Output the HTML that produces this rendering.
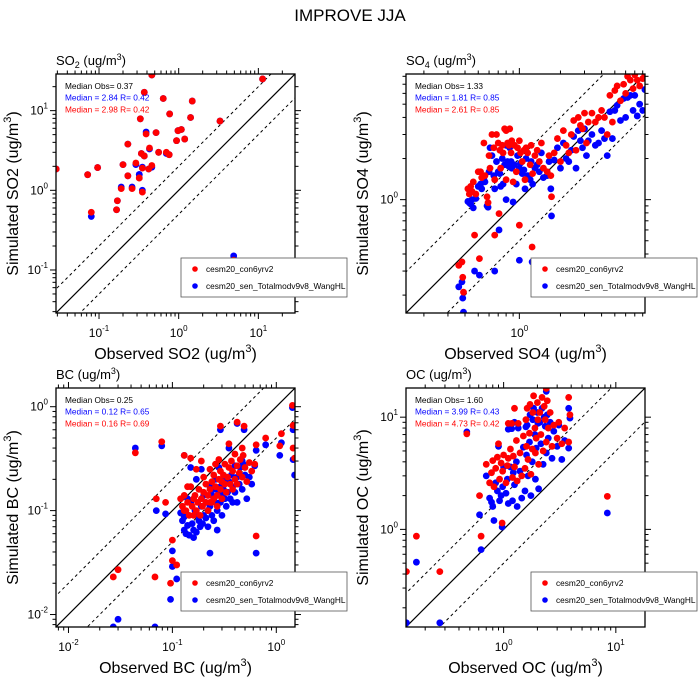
<!DOCTYPE html>
<html><head><meta charset="utf-8">
<style>
html,body{margin:0;padding:0;background:#fff;width:700px;height:700px;overflow:hidden;}
svg{display:block;font-family:"Liberation Sans",sans-serif;}
</style></head>
<body>
<svg id="chart" width="700" height="700" viewBox="0 0 700 700" xmlns="http://www.w3.org/2000/svg">
<text x="350" y="21" text-anchor="middle" font-size="17">IMPROVE JJA</text>
</svg>
<script>
// ---- SO2 data ----
const so2Obs  = [0.46,11.3,0.37,0.64,1.48,0.77,0.33,1.41,3.3,1.08,0.98,0.52,0.39,0.94,1.19,0.23,0.43,0.56,0.70,0.76,0.34,0.37,0.29,0.20,0.46,0.35,0.42,0.32,0.096,0.029,0.072,0.23,0.32,0.26,0.19,0.35,0.17,0.166,0.08,4.9];
const so2Red  = [28,25,17,14.2,13.2,9.1,7.9,8.2,7.4,5.8,5.6,5.3,5.1,4.2,4.4,3.8,3.4,3.0,3.0,2.8,2.9,2.7,2.2,2.1,2.05,1.9,1.85,1.43,1.93,1.85,1.57,1.52,1.43,1.05,1.05,0.95,0.74,0.57,0.53,0.133];
const so2Blue = [28,25,17,14.2,13.2,9.1,7.9,8.2,7.4,5.8,5.6,5.3,5.4,4.2,4.4,3.8,3.3,3.0,2.9,2.8,2.9,2.7,2.1,2.1,1.95,1.95,1.85,1.58,1.93,1.85,1.57,1.52,1.58,1.1,1.1,1.0,0.74,0.57,0.47,0.15];
// ---- SO4 data ----
const so4Obs  = [0.42,0.43,0.44,0.45,0.46,0.48,0.50,0.52,0.53,0.55,0.56,0.58,0.59,0.60,0.61,0.63,0.65,0.66,0.68,0.70,0.72,0.73,0.75,0.76,0.78,0.80,0.80,0.82,0.84,0.85,0.87,0.88,0.90,0.92,0.95,0.97,1.0,1.02,1.05,1.08,1.10,1.12,1.15,1.2,1.22,1.25,1.3,1.35,1.4,1.45,1.5,1.6,1.65,1.7,1.8,1.9,2.0,2.1,2.2,2.3,2.4,2.5,2.6,2.7,2.8,2.9,3.0,3.1,3.2,3.4,3.6,3.8,4.0,4.2,4.4,4.6,4.8,5.0,5.2,5.5,5.8,6.0,6.2,6.5,6.8,7.0,7.3,7.6,8.0,8.3,0.36,0.38,0.385,0.39,0.47,0.51,0.66,0.71,1.0,1.24,1.72];
const so4Red  = [1.2,1.1,1.25,1.15,1.35,1.1,1.6,1.6,1.45,2.6,1.5,1.05,0.95,2.1,1.7,3.0,2.4,1.4,3.0,2.6,2.3,1.7,2.5,2.2,3.3,3.2,1.4,2.6,2.5,3.3,2.2,2.7,1.35,2.5,1.6,2.4,2.7,2.2,1.9,2.3,1.4,2.4,2.2,1.8,2.5,1.55,2.1,2.3,1.9,2.6,1.7,1.6,2.1,1.5,2.2,2.8,1.9,3.2,2.5,2.2,3.0,3.8,2.3,4.0,3.5,3.3,4.3,2.6,3.7,4.3,3.7,4.0,4.5,4.0,3.0,5.8,3.7,6.3,6.8,5.3,7.0,6.0,8.0,7.5,6.5,8.2,7.5,6.8,7.7,8.2,0.33,0.35,0.27,0.21,0.55,0.37,0.55,0.79,0.65,0.45,1.05];
const so4Blue = [0.97,0.95,0.93,1.0,0.87,1.02,1.25,1.3,1.2,1.4,1.35,0.9,0.88,1.6,2.4,2.1,1.5,1.2,1.9,1.6,1.55,1.25,2.0,1.3,1.8,2.5,1.0,1.9,1.75,2.4,1.9,1.7,0.96,1.8,1.3,2.1,1.7,1.85,1.55,1.65,1.2,2.0,1.5,1.4,1.9,1.3,1.7,1.8,1.6,2.2,1.45,1.5,1.9,1.2,1.95,2.4,1.7,2.6,2.0,1.9,2.3,2.9,1.7,3.2,2.7,2.4,3.3,2.1,2.7,3.0,2.5,2.6,3.2,2.8,2.1,4.4,2.8,4.5,4.9,3.8,5.5,4.0,5.6,5.8,4.5,5.8,4.1,5.0,4.5,6.4,0.23,0.25,0.19,0.15,0.30,0.28,0.30,0.60,0.36,0.35,0.76];
// ---- BC data ----
const bcObs  = [0.044,0.079,0.027,0.03,0.068,0.07,0.096,0.1,0.1,0.11,0.13,0.29,0.42,0.49,0.64,0.64,0.79,1.08,1.12,1.43,1.45,1.45,1.5,0.23,0.12,0.125,0.13,0.135,0.14,0.145,0.15,0.155,0.16,0.165,0.17,0.17,0.175,0.18,0.185,0.19,0.19,0.195,0.2,0.2,0.21,0.21,0.22,0.22,0.23,0.23,0.24,0.24,0.25,0.25,0.26,0.26,0.27,0.27,0.28,0.28,0.29,0.29,0.3,0.3,0.31,0.32,0.32,0.33,0.34,0.35,0.36,0.37,0.38,0.38,0.40,0.40,0.42,0.42,0.44,0.45,0.47,0.48,0.50,0.52,0.55,0.58,0.62,0.35,0.47,0.14,0.15,0.13,0.16,0.086];
const bcRed  = [0.36,0.46,0.023,0.027,0.023,0.13,0.020,0.052,0.033,0.03,0.34,0.65,0.71,0.65,0.43,0.057,0.5,0.42,0.55,1.03,0.66,0.4,0.32,0.12,0.13,0.11,0.14,0.10,0.12,0.09,0.17,0.11,0.13,0.14,0.10,0.25,0.12,0.16,0.09,0.13,0.30,0.11,0.15,0.21,0.12,0.18,0.14,0.10,0.16,0.25,0.12,0.19,0.13,0.22,0.17,0.28,0.14,0.11,0.20,0.31,0.16,0.24,0.19,0.13,0.22,0.18,0.28,0.15,0.21,0.26,0.18,0.30,0.16,0.24,0.20,0.35,0.27,0.18,0.23,0.31,0.21,0.34,0.26,0.19,0.29,0.24,0.28,0.44,0.40,0.17,0.32,0.10,0.09,0.12];
const bcBlue = [0.40,0.42,0.0076,0.009,0.0076,0.10,0.014,0.041,0.029,0.022,0.34,0.6,0.69,0.6,0.38,0.039,0.43,0.34,0.45,0.98,0.6,0.31,0.22,0.039,0.095,0.08,0.065,0.06,0.072,0.058,0.12,0.075,0.065,0.10,0.062,0.20,0.09,0.08,0.07,0.11,0.25,0.075,0.09,0.14,0.085,0.12,0.10,0.07,0.11,0.17,0.09,0.14,0.08,0.16,0.12,0.20,0.10,0.065,0.15,0.26,0.12,0.17,0.14,0.09,0.16,0.13,0.20,0.11,0.15,0.19,0.13,0.22,0.12,0.17,0.15,0.27,0.21,0.12,0.18,0.26,0.16,0.28,0.22,0.13,0.21,0.18,0.27,0.40,0.30,0.13,0.26,0.087,0.055,0.093];
// ---- OC data ----
const ocObs  = [0.136,0.167,0.27,0.47,0.63,0.61,0.97,8.4,3.8,3.9,2.4,0.7,0.75,0.78,0.8,0.82,0.85,0.88,0.9,0.92,0.95,0.98,1.0,1.05,1.08,1.1,1.15,1.18,1.2,1.22,1.25,1.3,1.32,1.35,1.4,1.45,1.5,1.55,1.58,1.6,1.62,1.65,1.7,1.72,1.75,1.8,1.82,1.85,1.9,1.92,1.95,2.0,2.02,2.05,2.1,2.15,2.2,2.25,2.3,2.35,2.4,2.45,2.5,2.6,2.7,2.8,3.0,3.1,3.3,3.5,3.8,1.1,1.25];
const ocRed  = [0.42,0.87,0.42,7.1,0.87,2.0,1.14,1.97,15,10.5,18,3.8,2.6,3.2,4.1,2.4,3.5,4.4,5.8,2.8,3.9,3.3,4.6,2.6,3.7,4.3,5.2,8.8,2.9,4.5,3.6,6.2,2.7,8.8,4.8,3.0,6.8,3.5,9.5,5.5,12,4.2,7.2,13,3.1,5.2,11,15.5,8.0,4.8,6.5,13.5,9.5,3.8,11,7.0,15,5.0,12.5,9.5,6.0,14,8.0,11,5.5,8.5,6.5,9.0,5.8,8.0,6.0,8.8,12];
const ocBlue = [0.147,0.51,0.147,7.4,0.66,1.35,1.05,1.4,12,9.8,17,3.0,1.9,1.75,1.6,1.2,2.6,2.2,5.5,1.8,2.0,2.4,3.6,2.1,2.8,1.7,3.6,7.9,1.8,3.2,2.5,4.0,1.6,8.0,3.3,1.9,5.4,2.2,8.2,4.6,8.5,3.0,6.0,10.5,2.0,4.0,9.5,12,7.0,2.8,5.3,11,8.8,2.3,9.0,5.8,12,3.8,10,8.3,4.8,10.5,6.5,9.0,4.3,7.5,5.5,8.5,4.2,6.2,5.3,7.8,9.0];

const NS = "http://www.w3.org/2000/svg";
const svg = document.getElementById('chart');
function mk(tag, attrs, parent){
  const e = document.createElementNS(NS, tag);
  for (const k in attrs) e.setAttribute(k, attrs[k]);
  (parent||svg).appendChild(e);
  return e;
}
const SIZE = 239;
const panels = [
  {id:'so2', x0:56, y0:74, lo:-1.54, hi:1.46, sp:'SO', sub:'2', name:'SO2', obs:so2Obs, red:so2Red, blue:so2Blue,
   med:['Median Obs= 0.37','Median = 2.84 R= 0.42','Median = 2.98 R= 0.42']},
  {id:'so4', x0:406, y0:74, lo:-0.83, hi:0.92, sp:'SO', sub:'4', name:'SO4', obs:so4Obs, red:so4Red, blue:so4Blue,
   med:['Median Obs= 1.33','Median = 1.81 R= 0.85','Median = 2.61 R= 0.85']},
  {id:'bc', x0:56, y0:388, lo:-2.12, hi:0.18, sp:'BC', sub:'', name:'BC', obs:bcObs, red:bcRed, blue:bcBlue,
   med:['Median Obs= 0.25','Median = 0.12 R= 0.65','Median = 0.16 R= 0.69']},
  {id:'oc', x0:406, y0:388, lo:-0.87, hi:1.26, sp:'OC', sub:'', name:'OC', obs:ocObs, red:ocRed, blue:ocBlue,
   med:['Median Obs= 1.60','Median = 3.99 R= 0.43','Median = 4.73 R= 0.42']}
];

panels.forEach(p => {
  const g = mk('g', {});
  
  
  const sx = v => p.x0 + (Math.log10(v) - p.lo) / (p.hi - p.lo) * SIZE;
  const sy = v => p.y0 + SIZE - (Math.log10(v) - p.lo) / (p.hi - p.lo) * SIZE;
  const clip = mk('clipPath', {id:'clip-' + p.id}, g);
  mk('rect', {x:p.x0, y:p.y0, width:SIZE, height:SIZE}, clip);
  const inner = mk('g', {'clip-path':'url(#clip-' + p.id + ')'}, g);
  const vlo = Math.pow(10, p.lo - 1), vhi = Math.pow(10, p.hi + 1);
  const one = mk('line', {x1:sx(vlo), y1:sy(vlo), x2:sx(vhi), y2:sy(vhi), stroke:'#000', 'stroke-width':1.2}, inner);
  
  
  [2, 0.5].forEach(f => {
    const l = mk('line', {x1:sx(vlo), y1:sy(vlo*f), x2:sx(vhi), y2:sy(vhi*f), stroke:'#000', 'stroke-width':1, 'stroke-dasharray':'3,3'}, inner);
    
    
  });
  p.obs.forEach((o, i) => {
    const c = mk('circle', {cx:sx(o), cy:sy(p.blue[i]), r:3.4, fill:'#0000ff'}, inner);
    
    
  });
  p.obs.forEach((o, i) => {
    const c = mk('circle', {cx:sx(o), cy:sy(p.red[i]), r:3.4, fill:'#ff0000'}, inner);
    
    
  });
  const box = mk('rect', {x:p.x0, y:p.y0, width:SIZE, height:SIZE, fill:'none', stroke:'#000', 'stroke-width':1.3}, g);
  
  
  for (let d = Math.floor(p.lo); d <= Math.ceil(p.hi); d++) {
    for (let m = 1; m <= 9; m++) {
      const v = m * Math.pow(10, d);
      const lv = Math.log10(v);
      if (lv < p.lo - 1e-9 || lv > p.hi + 1e-9) continue;
      const len = m === 1 ? 6 : 3.5;
      const X = sx(v), Y = sy(v);
      mk('line', {x1:X, y1:p.y0+SIZE, x2:X, y2:p.y0+SIZE+len, stroke:'#000'}, g);
      mk('line', {x1:X, y1:p.y0, x2:X, y2:p.y0-len, stroke:'#000'}, g);
      mk('line', {x1:p.x0, y1:Y, x2:p.x0-len, y2:Y, stroke:'#000'}, g);
      mk('line', {x1:p.x0+SIZE, y1:Y, x2:p.x0+SIZE+len, y2:Y, stroke:'#000'}, g);
      if (m === 1) {
        const tx = mk('text', {x:X, y:p.y0+SIZE+24, 'text-anchor':'middle', 'font-size':12}, g);
        
        
        tx.innerHTML = '10<tspan dy="-6" font-size="8">' + d + '</tspan>';
        const ty = mk('text', {x:p.x0-8, y:Y+4, 'text-anchor':'end', 'font-size':12}, g);
        
        
        ty.innerHTML = '10<tspan dy="-6" font-size="8">' + d + '</tspan>';
      }
    }
  }
  const pt = mk('text', {x:p.x0, y:p.y0-9, 'font-size':13}, g);
  
  
  pt.innerHTML = p.sp + (p.sub ? '<tspan dy="3" font-size="9">' + p.sub + '</tspan><tspan dy="-3"> (ug/m</tspan>' : ' (ug/m') +
    '<tspan dy="-5" font-size="9">3</tspan><tspan dy="5">)</tspan>';
  const xt = mk('text', {x:p.x0+SIZE/2, y:p.y0+SIZE+46, 'text-anchor':'middle', 'font-size':16}, g);
  
  
  xt.innerHTML = 'Observed ' + p.name + ' (ug/m<tspan dy="-7" font-size="11">3</tspan><tspan dy="7">)</tspan>';
  const cx = p.x0 - 38, cy = p.y0 + SIZE/2;
  const yt = mk('text', {x:cx, y:cy, 'text-anchor':'middle', 'font-size':16, transform:'rotate(-90 ' + cx + ' ' + cy + ')'}, g);
  
  
  yt.innerHTML = 'Simulated ' + p.name + ' (ug/m<tspan dy="-7" font-size="11">3</tspan><tspan dy="7">)</tspan>';
  const cols = ['#000', '#0000ff', '#ff0000'];
  p.med.forEach((s, i) => {
    const t = mk('text', {x:p.x0+9, y:p.y0+15+i*11.7, 'font-size':8.3, fill:cols[i]}, g);
    
    
    t.textContent = s;
  });
  const lg = mk('g', {}, g);
  
  
  const lx = p.x0 + 125, ly = p.y0 + 184;
  mk('rect', {x:lx, y:ly, width:166, height:39, fill:'#fff', stroke:'#555', 'stroke-width':0.8}, lg);
  [['#ff0000','cesm20_con6yrv2'],['#0000ff','cesm20_sen_Totalmodv9v8_WangHL']].forEach((e, i) => {
    const eg = mk('g', {}, lg);
    
    
    mk('circle', {cx:lx+14, cy:ly+11+i*17, r:2.8, fill:e[0]}, eg);
    const t = mk('text', {x:lx+25, y:ly+14+i*17, 'font-size':8.3}, eg);
    t.textContent = e[1];
  });
});
</script>
</body></html>
